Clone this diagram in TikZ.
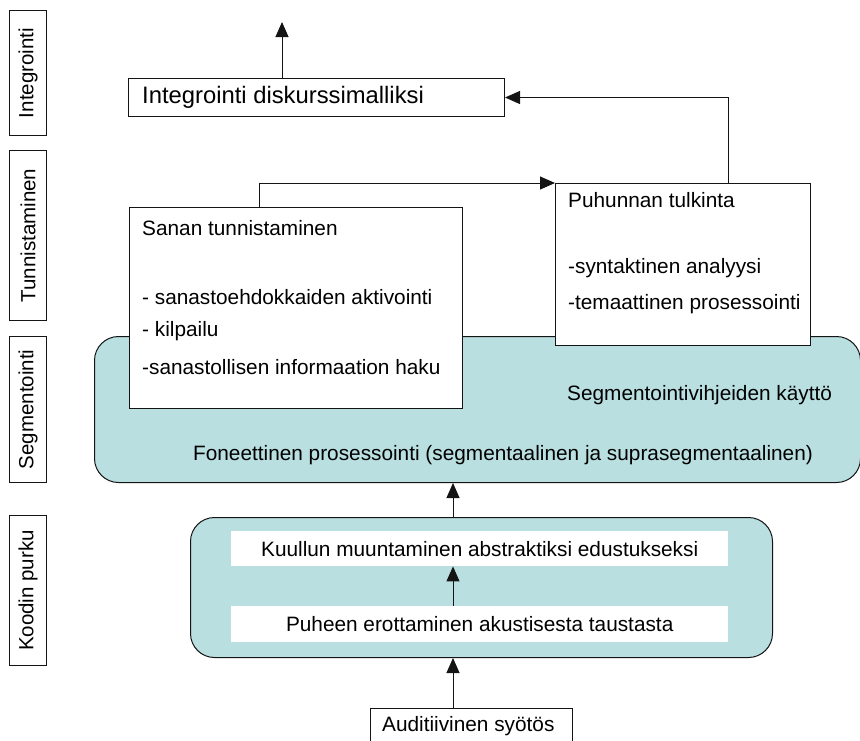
\documentclass[tikz,border=0pt]{standalone}
\usepackage{fontspec}
\setmainfont{Liberation Sans}
\usetikzlibrary{arrows.meta}
\definecolor{tealfill}{RGB}{185,223,225}
\definecolor{edge}{RGB}{20,20,20}
\tikzset{
  box/.style={draw=edge, line width=1pt, fill=white, anchor=north west, inner sep=0pt},
  panel/.style={draw=edge, line width=1pt, fill=tealfill, rounded corners=24pt, anchor=north west, inner sep=0pt},
  strip/.style={fill=white, anchor=north west, inner sep=0pt},
  side/.style={draw=edge, line width=1pt, fill=white, anchor=north west, inner sep=0pt},
  sidetext/.style={rotate=90, font=\fontsize{20.5}{24}\selectfont},
  txt/.style={anchor=west, inner sep=0pt, font=\fontsize{20.8}{24}\selectfont},
  ctxt/.style={anchor=center, inner sep=0pt, font=\fontsize{20.8}{24}\selectfont},
  arr/.style={draw=edge, line width=1pt, -{Triangle[length=15pt,width=13pt]}},
}
\begin{document}
\begin{tikzpicture}[x=1pt,y=-1pt]
\useasboundingbox (0,0) rectangle (860,740);

% level labels on the left
\node[side, minimum width=37pt, minimum height=125pt] (l1) at (9,10) {};
\node[sidetext] at (l1.center) {Integrointi};
\node[side, minimum width=37pt, minimum height=170pt] (l2) at (9,150) {};
\node[sidetext] at (l2.center) {Tunnistaminen};
\node[side, minimum width=37pt, minimum height=146pt] (l3) at (9,336) {};
\node[sidetext] at (l3.center) {Segmentointi};
\node[side, minimum width=37pt, minimum height=150pt] (l4) at (9,515) {};
\node[sidetext] at (l4.center) {Koodin purku};

% segmentation panel
\node[panel, minimum width=766pt, minimum height=146pt] (seg) at (94,336) {};
\node[txt] (segcue) at (567,395) {Segmentointivihjeiden käyttö};
\node[ctxt] (phon) at (503,455) {Foneettinen prosessointi (segmentaalinen ja suprasegmentaalinen)};

% decoding panel
\node[panel, minimum width=582pt, minimum height=140pt] (dec) at (190,517) {};
\node[strip, minimum width=497pt, minimum height=35pt] (kuul) at (231,531) {};
\node[ctxt] at (kuul.center) {Kuullun muuntaminen abstraktiksi edustukseksi};
\node[strip, minimum width=497pt, minimum height=36pt] (puhe) at (231,606) {};
\node[ctxt] at (puhe.center) {Puheen erottaminen akustisesta taustasta};

% input
\node[box, minimum width=202pt, minimum height=36pt] (aud) at (370,708) {};
\node[txt] at (382,726) {Auditiivinen syötös};
\coordinate (flow) at (453,0);

% word recognition
\node[box, minimum width=333pt, minimum height=201pt] (sanan) at (129,207) {};
\node[txt] at (142,228) {Sanan tunnistaminen};
\node[txt] at (142,297) {- sanastoehdokkaiden aktivointi};
\node[txt] at (142,331) {- kilpailu};
\node[txt] at (142,367) {-sanastollisen informaation haku};

% utterance interpretation
\node[box, minimum width=255pt, minimum height=162pt] (puh) at (555,183) {};
\node[txt] at (568,200) {Puhunnan tulkinta};
\node[txt] at (568,268) {-syntaktinen analyysi};
\node[txt] at (568,304) {-temaattinen prosessointi};

% integration
\node[box, minimum width=376pt, minimum height=38pt] (integ) at (128,78) {};
\node[txt, font=\fontsize{23.8}{27}\selectfont] at (142,97) {Integrointi diskurssimalliksi};
\coordinate (out) at (282,22);

% connectors
\draw[arr] (aud.north -| flow) -- (dec.south -| flow);
\draw[arr] (puhe.north -| flow) -- (kuul.south -| flow);
\draw[arr] (dec.north -| flow) -- (seg.south -| flow);
\draw[arr] ([xshift=-37pt]sanan.north) |- (puh.north west);
\draw[arr] ([xshift=45pt]puh.north) |- (integ.east);
\draw[arr] (integ.north -| out) -- (out);
\end{tikzpicture}
\end{document}
